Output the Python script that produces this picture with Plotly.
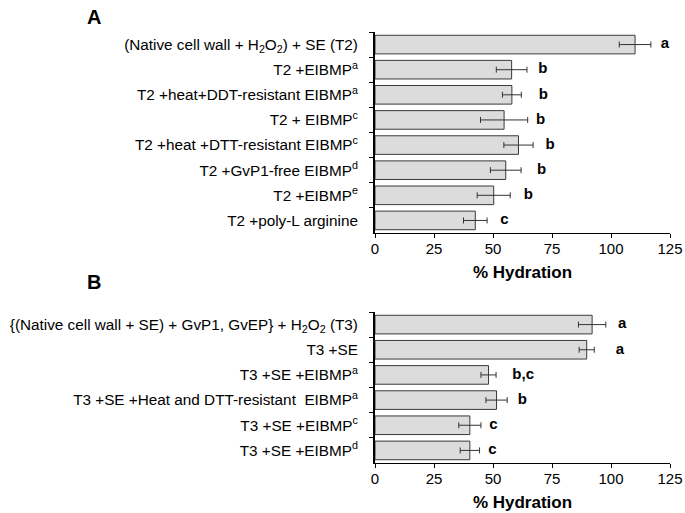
import plotly.graph_objects as go

# Panel A data
cats_a = [
    "(Native cell wall + H<sub>2</sub>O<sub>2</sub>) + SE (T2)",
    "T2 +EIBMP<sup>a</sup>",
    "T2 +heat+DDT-resistant EIBMP<sup>a</sup>",
    "T2 + EIBMP<sup>c</sup>",
    "T2 +heat +DTT-resistant EIBMP<sup>c</sup>",
    "T2 +GvP1-free EIBMP<sup>d</sup>",
    "T2 +EIBMP<sup>e</sup>",
    "T2 +poly-L arginine",
]
vals_a = [110.2, 57.9, 58.0, 54.7, 60.8, 55.4, 50.3, 42.5]
errs_a = [6.7, 6.5, 4.0, 10.0, 6.2, 6.5, 7.0, 5.0]
letters_a = ["a", "b", "b", "b", "b", "b", "b", "c"]
letter_x_a = [122.9, 71.1, 71.3, 70.2, 74.2, 70.6, 65.0, 54.8]

# Panel B data
cats_b = [
    "{(Native cell wall + SE) + GvP1, GvEP} + H<sub>2</sub>O<sub>2</sub> (T3)",
    "T3 +SE",
    "T3 +SE +EIBMP<sup>a</sup>",
    "T3 +SE +Heat and DTT-resistant  EIBMP<sup>a</sup>",
    "T3 +SE +EIBMP<sup>c</sup>",
    "T3 +SE +EIBMP<sup>d</sup>",
]
vals_b = [92.0, 89.7, 48.1, 51.5, 40.2, 40.2]
errs_b = [5.8, 3.2, 3.2, 4.5, 4.7, 4.1]
letters_b = ["a", "a", "b,c", "b", "c", "c"]
letter_x_b = [104.7, 103.8, 62.8, 62.4, 50.2, 49.8]

x_ticks = [0, 25, 50, 75, 100, 125]
x_title = "% Hydration"

FONT = "Liberation Sans, Arial, sans-serif"
BAR_FILL = "#dcdcdc"
BAR_LINE = "#3a3a3a"

fig = go.Figure()

def add_panel(cats, vals, errs, letters, lx, xa, ya):
    fig.add_trace(go.Bar(
        y=cats, x=vals, orientation="h",
        marker=dict(color=BAR_FILL, line=dict(color=BAR_LINE, width=1)),
        error_x=dict(type="data", array=errs, visible=True,
                     color="#333333", thickness=1, width=3),
        xaxis=xa, yaxis=ya, showlegend=False, hoverinfo="skip",
    ))
    fig.add_trace(go.Scatter(
        y=cats, x=lx, mode="text", text=letters,
        textfont=dict(family=FONT, size=15, color="black", weight="bold"),
        textposition="middle center",
        xaxis=xa, yaxis=ya, showlegend=False, hoverinfo="skip",
    ))

add_panel(cats_a, vals_a, errs_a, letters_a, letter_x_a, "x", "y")
add_panel(cats_b, vals_b, errs_b, letters_b, letter_x_b, "x2", "y2")

W, H = 685, 513

def fx(px):
    return px / W

def fy(py):
    return 1 - py / H

xdom = [fx(375), fx(670)]
ydom_a = [fy(233), fy(32)]
ydom_b = [fy(463), fy(312)]

xaxis_common = dict(
    range=[0, 125], tickvals=x_ticks, ticktext=[str(t) for t in x_ticks],
    showgrid=False, zeroline=False, showline=True, linecolor="black",
    linewidth=1, ticks="outside", ticklen=4, tickcolor="black",
    automargin=False, ticklabelstandoff=-2,
    tickfont=dict(family=FONT, size=15, color="black"),
    title=dict(text=x_title, font=dict(family=FONT, size=17, color="black",
                                       weight="bold"),
               standoff=10),
)
yaxis_common = dict(
    autorange="reversed", showgrid=False, zeroline=False, showline=True,
    linecolor="black", linewidth=2, ticks="outside", ticklen=4,
    tickcolor="black", tickson="boundaries", automargin=False,
    ticklabelstandoff=12,
    tickfont=dict(family=FONT, size=15.3, color="black"),
)

fig.update_layout(
    width=W, height=H, autosize=False,
    margin=dict(l=0, r=0, t=0, b=0, pad=0),
    paper_bgcolor="white", plot_bgcolor="white",
    bargap=0.26,
    xaxis=dict(domain=xdom, anchor="y", **xaxis_common),
    yaxis=dict(domain=ydom_a, anchor="x", **yaxis_common),
    xaxis2=dict(domain=xdom, anchor="y2", **xaxis_common),
    yaxis2=dict(domain=ydom_b, anchor="x2", **yaxis_common),
    annotations=[
        dict(text="<b>A</b>", x=fx(94), y=fy(17), xref="paper", yref="paper",
             xanchor="center", yanchor="middle", showarrow=False,
             font=dict(family=FONT, size=20, color="black")),
        dict(text="<b>B</b>", x=fx(94), y=fy(282), xref="paper", yref="paper",
             xanchor="center", yanchor="middle", showarrow=False,
             font=dict(family=FONT, size=20, color="black")),
    ],
)

# Remove the default page margin so the 685x513 figure fills the window.
fig.write_html(
    "out.html",
    config={"displayModeBar": False},
    post_script="document.body.style.margin='0px';"
                "document.body.style.overflow='hidden';",
)
